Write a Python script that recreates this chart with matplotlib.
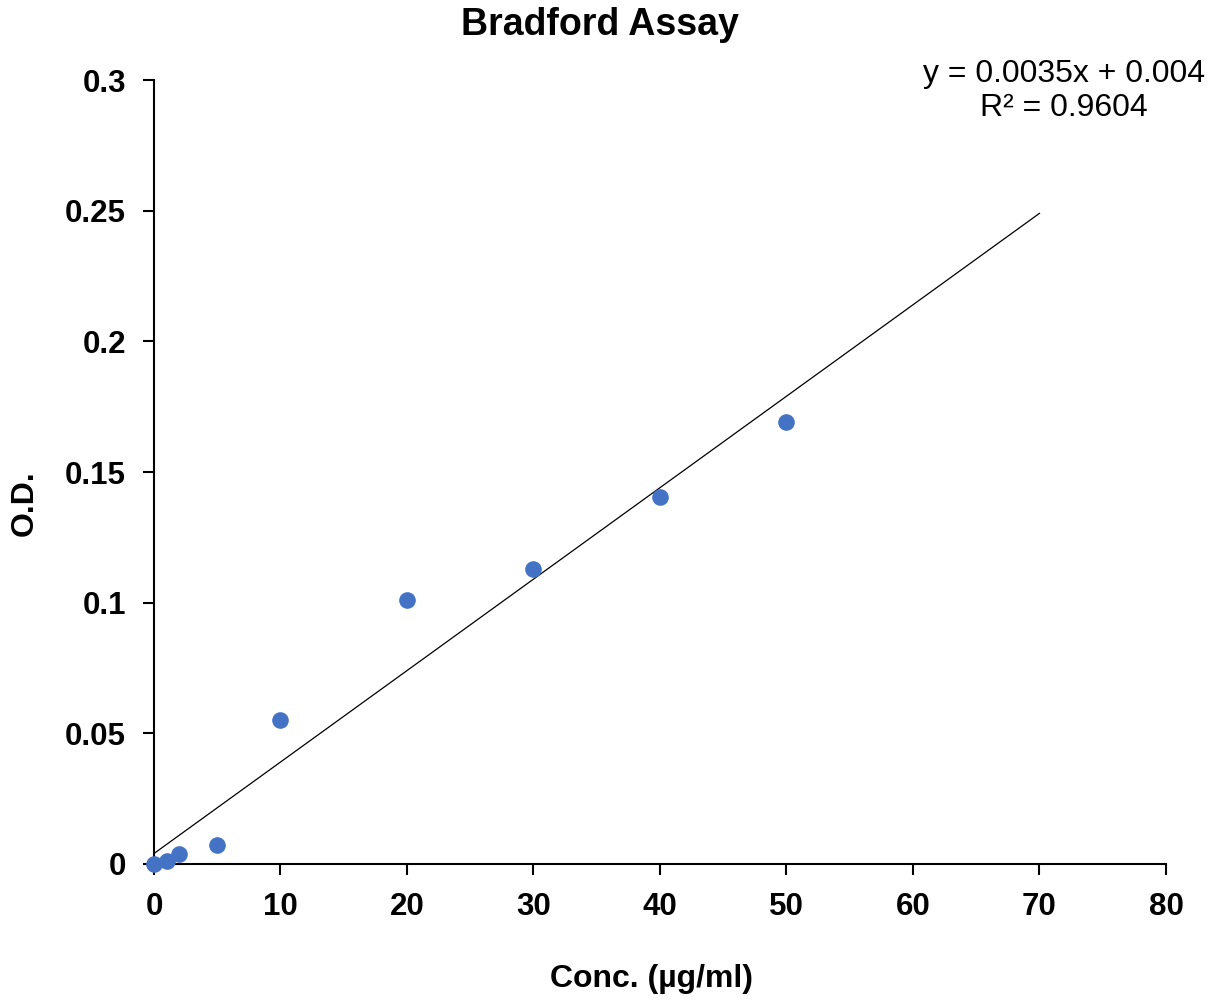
import matplotlib
matplotlib.use("Agg")
import matplotlib.pyplot as plt
import numpy as np

plt.rcParams['font.family'] = ['Liberation Sans', 'DejaVu Sans']

conc = [0, 1, 2, 5, 10, 20, 30, 40, 50]
od = [0.0, 0.0012, 0.0038, 0.0073, 0.055, 0.101, 0.113, 0.1405, 0.169]
slope = 0.0035
intercept = 0.004
r2 = 0.9604
trend_x = [0, 70]

fig = plt.figure(figsize=(12.25, 10.01), dpi=100)
ax = fig.add_axes([0.1257, 0.1369, 0.8261, 0.7831])

tx = np.array(trend_x, dtype=float)
ax.plot(tx, slope * tx + intercept, color='black', lw=0.9, zorder=2)
ax.scatter(conc, od, s=120, color='#4472C4', zorder=3, clip_on=False)

ax.set_xlim(0, 80)
ax.set_ylim(0, 0.3)
ax.set_xticks(np.arange(0, 81, 10))
ax.set_yticks([0, 0.05, 0.1, 0.15, 0.2, 0.25, 0.3])
ax.set_yticklabels(['0', '0.05', '0.1', '0.15', '0.2', '0.25', '0.3'])
for lab in ax.get_xticklabels() + ax.get_yticklabels():
    lab.set_fontweight('bold')
ax.tick_params(axis='both', labelsize=22.5, length=8, width=1.5, direction='out')
ax.tick_params(axis='x', pad=12)
ax.tick_params(axis='y', pad=12)
for s in ['top', 'right']:
    ax.spines[s].set_visible(False)
for s in ['left', 'bottom']:
    ax.spines[s].set_linewidth(1.5)

fig.text(0.532, 0.022, 'Conc. (µg/ml)', fontsize=23, fontweight='bold',
         ha='center', va='center')
fig.text(0.0204, 0.4975, 'O.D.', fontsize=23, fontweight='bold',
         ha='center', va='center', rotation=90)
fig.text(0.49, 0.975, 'Bradford Assay', fontsize=27, fontweight='bold',
         ha='center', va='center')

fig.text(0.8686, 0.909, f'y = {slope}x + {intercept}\nR² = {r2}', fontsize=23,
         ha='center', va='center', linespacing=1.2)

fig.savefig('out.png', dpi=100)
